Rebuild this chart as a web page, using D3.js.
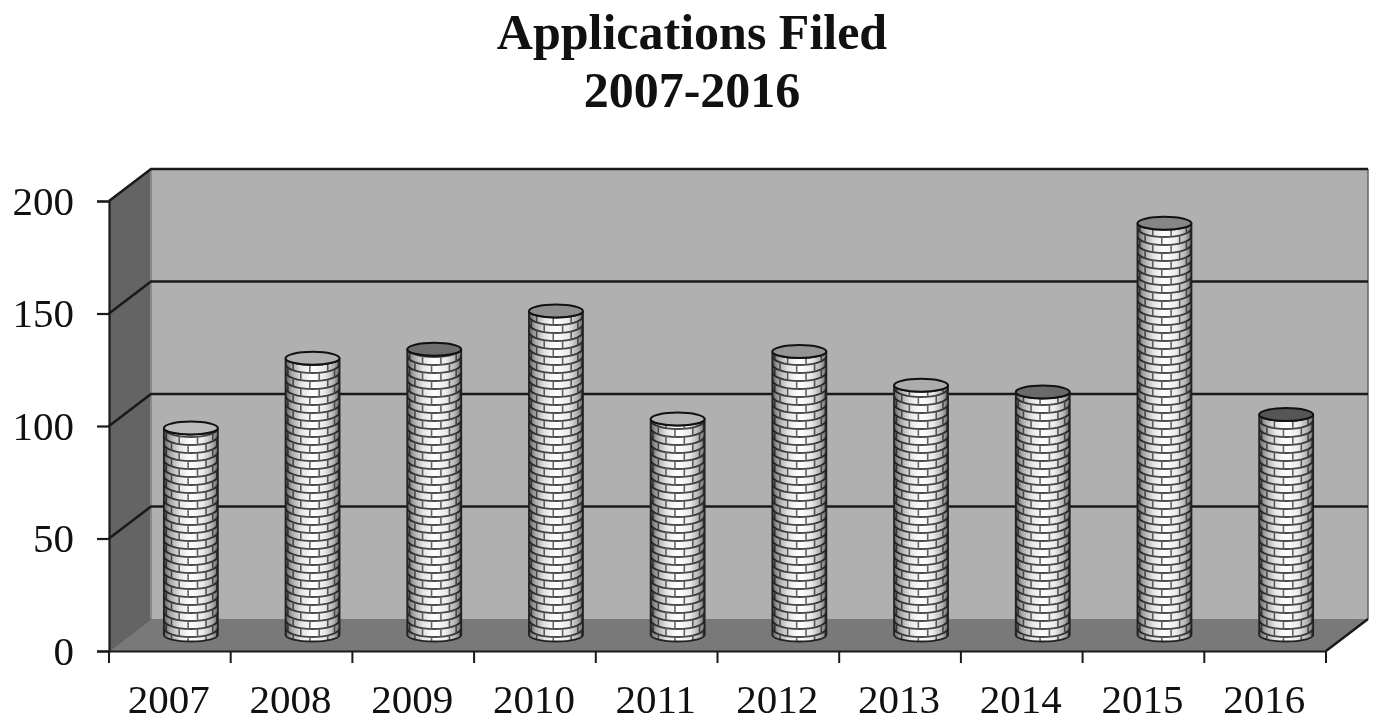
<!DOCTYPE html>
<html><head><meta charset="utf-8">
<script src="https://cdn.jsdelivr.net/npm/d3@7/dist/d3.min.js"></script>
<style>html,body{margin:0;padding:0;background:#fff;overflow:hidden}svg{display:block;filter:blur(.55px)}text{font-family:"Liberation Serif",serif;fill:#111}</style>
</head><body><div id="c"></div>
<script>
const titleLines = ["Applications Filed", "2007-2016"];
const years = ["2007","2008","2009","2010","2011","2012","2013","2014","2015","2016"];
const applications = [92,123,127,144,96,126,111,108,183,98];
const yTicks = [0,50,100,150,200];

const W=1378,H=722, L=109,R=1326,B=651,T=201, DX=42,DY=-32, rad=27, ry=6.5, rowRy=9;
const capShades=["#bcbcbc","#b0b0b0","#6e6e6e","#8e8e8e","#b4b4b4","#949494","#acacac","#6a6a6a","#868686","#565656"];
const svg=d3.select("#c").append("svg").attr("width",W).attr("height",H);
const x=d3.scaleBand().domain(years).range([L,R]);
const y=d3.scaleLinear().domain([0,200]).range([B,T]);
const defs=svg.append("defs");
const g0=defs.append("linearGradient").attr("id","shade");
[[0,.62],[.12,.34],[.3,.1],[.5,0],[.72,.08],[.9,.32],[1,.6]].forEach(([o,a])=>g0.append("stop").attr("offset",o).attr("stop-color","#000").attr("stop-opacity",a));
defs.append("filter").attr("id","soft").attr("x","-5%").attr("width","110%").append("feGaussianBlur").attr("stdDeviation",.55);

titleLines.forEach((t,i)=>svg.append("text").attr("x",692).attr("y",49+i*58).attr("text-anchor","middle").attr("font-weight","bold").attr("font-size",50).text(t));

const poly=(pts,fill)=>svg.append("polygon").attr("points",pts.map(p=>p.join(",")).join(" ")).attr("fill",fill);
poly([[L+DX,T+DY],[R+DX,T+DY],[R+DX,B+DY],[L+DX,B+DY]],"#b0b0b0");
poly([[L,T],[L+DX,T+DY],[L+DX,B+DY],[L,B]],"#646464");
poly([[L,B],[L+DX,B+DY],[R+DX,B+DY],[R,B]],"#797979");
svg.append("line").attr("x1",L+DX).attr("x2",L+DX).attr("y1",T+DY).attr("y2",B+DY).attr("stroke","#8a8a8a").attr("stroke-width",2);
svg.append("line").attr("x1",R+DX).attr("x2",R+DX).attr("y1",T+DY).attr("y2",B+DY).attr("stroke","#666").attr("stroke-width",1.5);

const grid=svg.append("g").attr("fill","none").attr("stroke","#1a1a1a").attr("stroke-width",2.5);
yTicks.filter(v=>v>0).forEach(v=>grid.append("path").attr("d",`M${L},${y(v)}L${L+DX},${y(v)+DY}H${R+DX}`));
grid.append("path").attr("d",`M${L},${B}L${L+DX},${B+DY}`).attr("stroke","#555").attr("stroke-width",1);
grid.append("path").attr("d",`M${R},${B}L${R+DX},${B+DY}`);

const axL=svg.append("g").attr("transform",`translate(${L},0)`).call(d3.axisLeft(y).tickValues(yTicks).tickSize(12));
const axB=svg.append("g").attr("transform",`translate(0,${B})`).call(d3.axisBottom(x).tickSize(0));
[axL,axB].forEach(a=>{a.selectAll("text").attr("font-size",41).attr("font-family","Liberation Serif").attr("fill","#111");a.selectAll("path,line").attr("stroke","#1a1a1a").attr("stroke-width",2.2);});
axB.selectAll("text").attr("dy",0).attr("y",62).attr("x",-1);
axL.selectAll("text").attr("dy",0).attr("y",13).attr("x",-35);
axB.selectAll("line.edge").data(d3.range(years.length+1)).enter().append("line").attr("class","edge")
  .attr("x1",i=>L+i*x.step()).attr("x2",i=>L+i*x.step()).attr("y1",0).attr("y2",12).attr("stroke","#1a1a1a").attr("stroke-width",2);

const step=8, da=40*Math.PI/180;
const bars=svg.selectAll("g.bar").data(years.map((k,i)=>({k,v:applications[i],i}))).enter().append("g").attr("class","bar");
bars.each(function(d){
  const g=d3.select(this), cx=x(d.k)+x.bandwidth()/2+DX/2, yb=y(0)+DY/2, yt=y(d.v)+DY/2;
  const body=`M${cx-rad},${yt}A${rad},${ry} 0 0 0 ${cx+rad},${yt}V${yb}A${rad},${ry} 0 0 1 ${cx-rad},${yb}Z`;
  defs.append("clipPath").attr("id","cl"+d.i).append("path").attr("d",body);
  const inner=g.append("g").attr("clip-path",`url(#cl${d.i})`);
  inner.append("path").attr("d",body).attr("fill","#ffffff");
  let dRow="",dJoint="";
  const n=Math.ceil((yb-yt)/step)+3;
  for(let k=0;k<n;k++){
    const yy=yb-k*step+1;
    dRow+=`M${cx-rad},${yy}A${rad},${rowRy} 0 0 0 ${cx+rad},${yy}`;
    const off=(k%2?da/2:0)-.1;
    for(let a=-4;a<=4;a++){
      const th=off+a*da; if(Math.abs(th)>=Math.PI/2) continue;
      const px=cx+rad*Math.sin(th), py=yy+rowRy*Math.cos(th);
      dJoint+=`M${px},${py}V${py-step}`;
    }
  }
  const soft=inner.append("g").attr("filter","url(#soft)");
  soft.append("path").attr("d",dRow).attr("fill","none").attr("stroke","#4c4c4c").attr("stroke-width",2);
  soft.append("path").attr("d",dJoint).attr("fill","none").attr("stroke","#666").attr("stroke-width",1.6);
  inner.append("rect").attr("x",cx-rad).attr("y",yt-ry).attr("width",2*rad).attr("height",yb-yt+2*ry).attr("fill","url(#shade)");
  g.append("path").attr("d",body).attr("fill","none").attr("stroke","#222").attr("stroke-width",1.8);
  g.append("ellipse").attr("cx",cx).attr("cy",yt).attr("rx",rad).attr("ry",ry).attr("fill",capShades[d.i]).attr("stroke","#111").attr("stroke-width",2);
});
</script></body></html>
